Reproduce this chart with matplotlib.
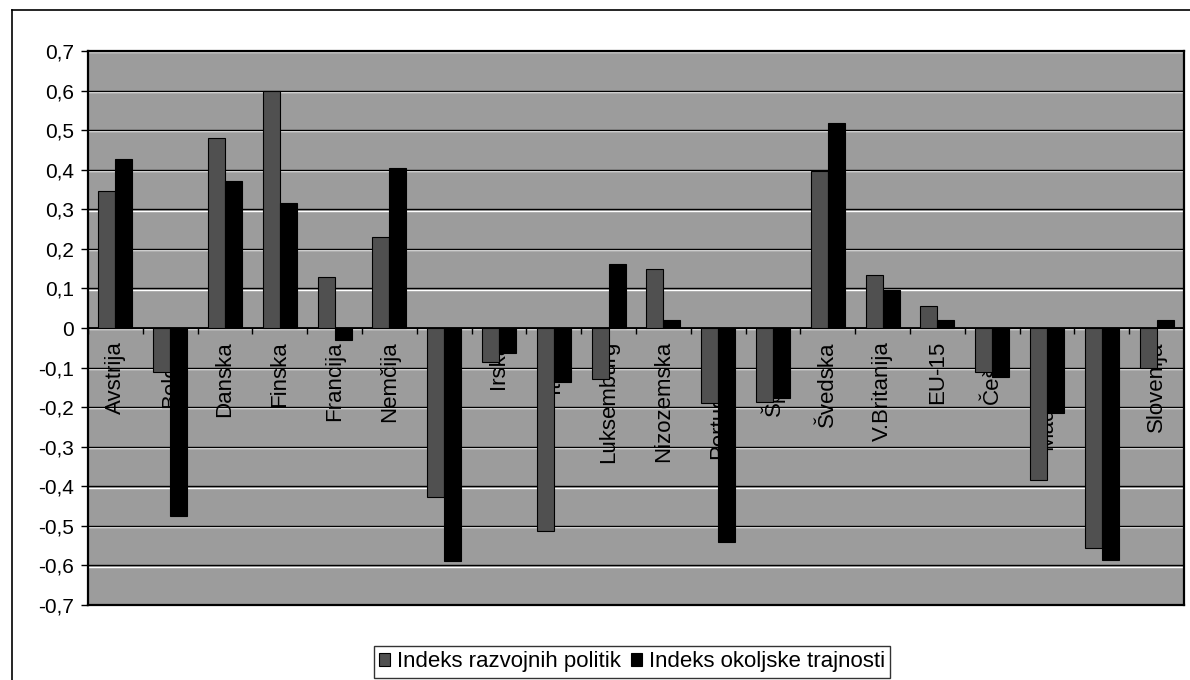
import matplotlib
matplotlib.use("Agg")
import matplotlib.pyplot as plt
import matplotlib.transforms as mtransforms
from matplotlib.patches import Patch
from matplotlib.lines import Line2D
import numpy as np

plt.rcParams["font.family"] = ["Liberation Sans", "DejaVu Sans"]

countries = ["Avstrija", "Belgija", "Danska", "Finska", "Francija", "Nemčija",
             "Grčija", "Irska", "Italija", "Luksemburg", "Nizozemska",
             "Portugalska", "Španija", "Švedska", "V.Britanija", "EU-15",
             "Češka", "Madžarska", "Poljska", "Slovenija"]
razvoj = [0.345, -0.11, 0.48, 0.599, 0.13, 0.23, -0.427, -0.085, -0.513, -0.13,
          0.148, -0.19, -0.188, 0.398, 0.135, 0.055, -0.112, -0.383, -0.557, -0.10]
okolje = [0.427, -0.475, 0.372, 0.316, -0.03, 0.405, -0.59, -0.063, -0.137, 0.162,
          0.019, -0.541, -0.178, 0.518, 0.097, 0.021, -0.125, -0.214, -0.586, 0.019]
series_names = ["Indeks razvojnih politik", "Indeks okoljske trajnosti"]
y_ticks = [0.7, 0.6, 0.5, 0.4, 0.3, 0.2, 0.1, 0.0, -0.1, -0.2, -0.3, -0.4, -0.5, -0.6, -0.7]

W, H = 1190, 680
fig = plt.figure(figsize=(W / 100, H / 100), dpi=100)
ax = fig.add_axes([88 / W, 1 - 605 / H, (1184 - 88) / W, (605 - 51) / H])

plot_bg = "#9c9c9c"
grey_bar = "#505050"
ax.set_facecolor(plot_bg)

x = np.arange(len(countries))
bw = 0.31
ax.bar(x - bw / 2, razvoj, bw, color=grey_bar, edgecolor="black", linewidth=0.8, zorder=3)
ax.bar(x + bw / 2, okolje, bw, color="black", edgecolor="black", linewidth=0.8, zorder=3)

ax.set_xlim(-0.5, len(countries) - 0.5)
ax.set_ylim(-0.7, 0.7)

# gridlines: dark line with a light edge just beneath
shifted = mtransforms.offset_copy(ax.transData, fig=fig, x=0, y=-1.3, units="dots")
light = mtransforms.blended_transform_factory(ax.transAxes, shifted)
for t in y_ticks:
    ax.plot([0, 1], [t, t], color="white", linewidth=1.0, zorder=1, transform=light)
    ax.axhline(t, color="black", linewidth=1.0, zorder=1.2)

# category axis at zero with tick marks between groups
ax.axhline(0, color="black", linewidth=1.3, zorder=2.5)
ax.vlines(np.arange(len(countries) + 1) - 0.5, -0.014, 0, color="black",
          linewidth=1.0, zorder=2.5)

# category names sit just under the zero line, behind the bars
for i, name in enumerate(countries):
    ax.text(i, -0.033, name, rotation=90, ha="center", va="top", fontsize=16,
            color="black", zorder=2)

ax.set_xticks([])
ax.set_yticks(y_ticks)
ax.set_yticklabels(["0" if abs(v) < 1e-9 else f"{v:.1f}".replace(".", ",") for v in y_ticks])
ax.tick_params(axis="y", direction="out", length=5, width=1, pad=5, labelsize=15)
for s in ax.spines.values():
    s.set_color("black")
    s.set_linewidth(1.6)

handles = [Patch(facecolor=grey_bar, edgecolor="black", linewidth=0.8),
           Patch(facecolor="black", edgecolor="black", linewidth=0.8)]
leg = fig.legend(handles, series_names, loc="center", bbox_to_anchor=(632 / W, 1 - 662 / H),
                 ncol=2, fontsize=16, frameon=True, fancybox=False, edgecolor="black",
                 handlelength=0.5, handleheight=0.5, handletextpad=0.3,
                 columnspacing=0.45, borderpad=0.25, borderaxespad=0)
leg.get_frame().set_linewidth(1.0)

# outer chart border
fig.add_artist(Line2D([12 / W, 12 / W], [0, 1 - 10 / H], color="black", linewidth=1.2))
fig.add_artist(Line2D([12 / W, 1], [1 - 10 / H, 1 - 10 / H], color="black", linewidth=1.2))

fig.savefig("out.png", dpi=100, facecolor="white")
